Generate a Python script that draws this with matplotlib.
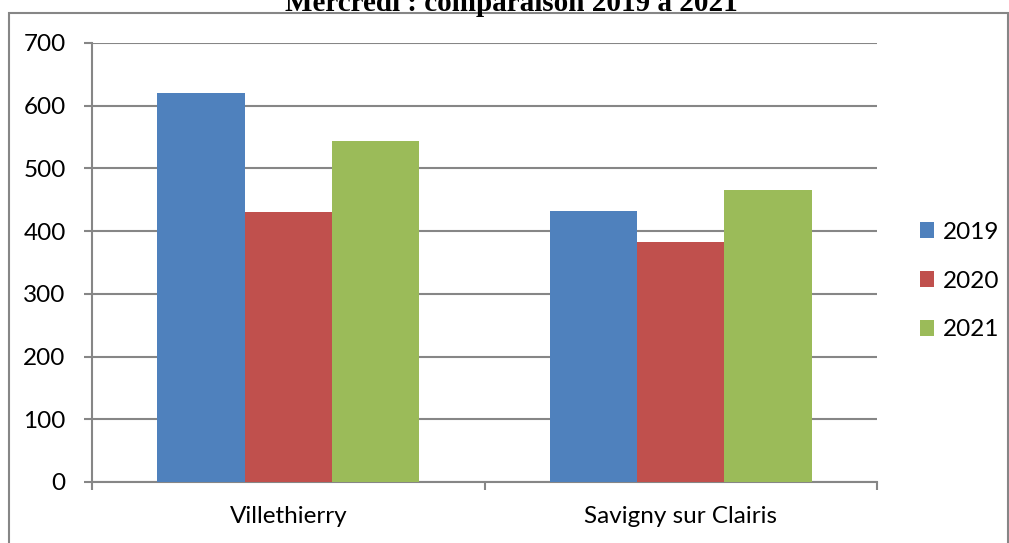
import matplotlib.pyplot as plt
import matplotlib.patches as mpatches
import numpy as np

communes = ['Villethierry', 'Savigny sur Clairis']
annees = ['2019', '2020', '2021']
v2019 = [621, 432]
v2020 = [430, 382]
v2021 = [543, 465]
couleurs = ['#4F81BD', '#C0504D', '#9BBB59']

plt.rcParams['font.family'] = ['Lato', 'DejaVu Sans']

fig = plt.figure(figsize=(10.09, 5.43), dpi=100)
ax = fig.add_axes([92 / 1009, 61 / 543, 785 / 1009, 439 / 543])

# cadre du graphique (coupe en haut et en bas comme sur la capture)
fig.patches.append(mpatches.Rectangle((9 / 1009, -0.05), 999 / 1009, 1.05 - 13 / 543,
                                      transform=fig.transFigure, fill=False,
                                      edgecolor='#868686', linewidth=1.5))

x = np.arange(len(communes))
w = 1 / 4.5
for i, (vals, lab) in enumerate(zip([v2019, v2020, v2021], annees)):
    ax.bar(x + (i - 1) * w, vals, w, color=couleurs[i], label=lab, zorder=3)

ax.set_ylim(0, 700)
ax.set_xlim(-0.5, 1.5)
ax.set_yticks(range(0, 701, 100))
ax.yaxis.grid(True, color='#868686', linewidth=1.5, zorder=0)
ax.tick_params(axis='y', length=6, width=1.5, color='#868686', pad=13, labelsize=17.5)

ax.set_xticks([-0.5, 0.5, 1.5])
ax.set_xticklabels([])
ax.set_xticks(x, minor=True)
ax.set_xticklabels(communes, minor=True)
ax.tick_params(axis='x', which='major', length=6, width=1.5, color='#868686')
ax.tick_params(axis='x', which='minor', length=0, pad=17, labelsize=17.5)

for s in ['top', 'right']:
    ax.spines[s].set_visible(False)
for s in ['left', 'bottom']:
    ax.spines[s].set_color('#868686')
    ax.spines[s].set_linewidth(1.5)

ax.legend(loc='center left', bbox_to_anchor=(898 / 1009, 1 - 281 / 543),
          bbox_transform=fig.transFigure, frameon=False, fontsize=17.5,
          handlelength=0.6, handleheight=0.6, handletextpad=0.35, labelspacing=1.15)

fig.text(511 / 1009, 1 - 11 / 543, 'Mercredi : comparaison 2019 à 2021',
         ha='center', va='baseline', fontsize=21, fontweight='bold',
         family=['Liberation Serif', 'DejaVu Serif'])

fig.savefig('out.png', dpi=100)
